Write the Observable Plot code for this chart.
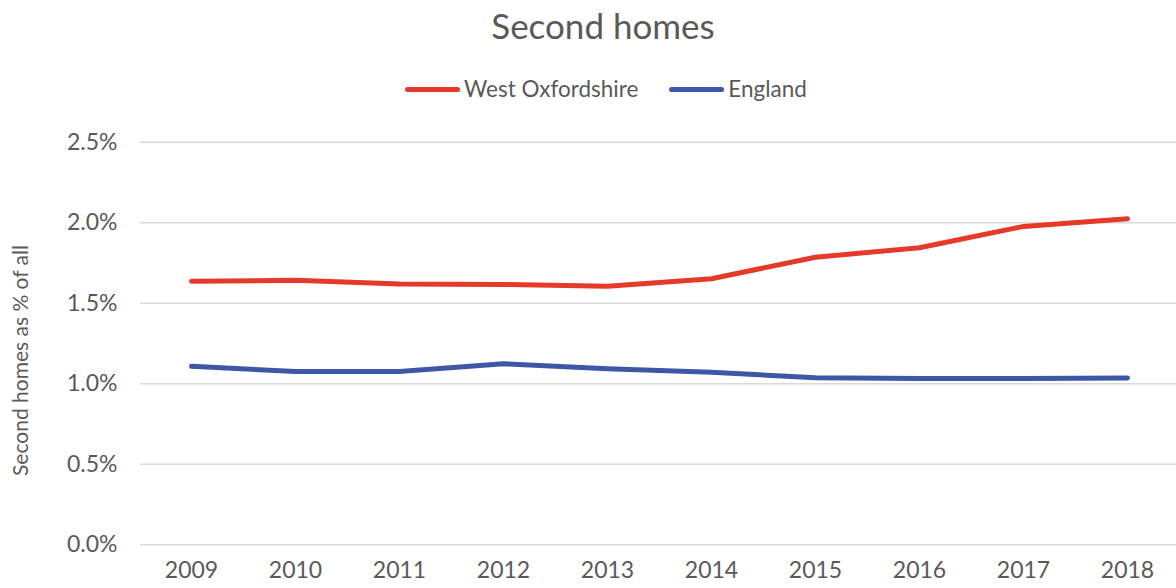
<!DOCTYPE html>
<html>
<head>
<meta charset="utf-8">
<script src="https://cdn.jsdelivr.net/npm/d3@7"></script>
<script src="https://cdn.jsdelivr.net/npm/@observablehq/plot@0.6"></script>
<style>
  body { margin: 0; background: #fff; font-family: Lato, "Open Sans", sans-serif; color: #595959; overflow: hidden; }
  #wrap { position: relative; width: 1176px; height: 588px; }
  #head { position: relative; width: 1176px; height: 115px; }
  #title { position: absolute; left: 603px; top: 5px; transform: translateX(-50%); font-size: 35px; line-height: 40px; white-space: nowrap; }
  #legend { position: absolute; left: 606px; top: 76px; transform: translateX(-50%); display: flex; align-items: center; font-size: 22.5px; line-height: 26px; white-space: nowrap; }
  .item { display: flex; align-items: center; }
  .item + .item { margin-left: 31px; }
  .swatch { width: 55px; height: 5px; border-radius: 3px; margin-right: 4px; }
  #chart svg { display: block; }
</style>
</head>
<body>
<div id="wrap">
  <div id="head">
    <div id="title"></div>
    <div id="legend"></div>
  </div>
  <div id="chart"></div>
</div>
<script>
const titleText = "Second homes";
const yLabel = "Second homes as % of all";
const years = [2009, 2010, 2011, 2012, 2013, 2014, 2015, 2016, 2017, 2018];
const seriesNames = ["West Oxfordshire", "England"];
const westOxfordshire = [1.637, 1.642, 1.620, 1.617, 1.606, 1.652, 1.786, 1.845, 1.977, 2.025];
const england = [1.108, 1.076, 1.076, 1.124, 1.093, 1.072, 1.037, 1.033, 1.033, 1.036];
const seriesColors = ["#e5392a", "#3d57a6"];
const yTicks = [0, 0.5, 1.0, 1.5, 2.0, 2.5];

const rows = [];
[westOxfordshire, england].forEach((vals, si) => {
  vals.forEach((v, i) => rows.push({ year: years[i], value: v, series: seriesNames[si] }));
});

document.getElementById("title").textContent = titleText;
const legend = document.getElementById("legend");
seriesNames.forEach((name, i) => {
  const item = document.createElement("div");
  item.className = "item";
  const sw = document.createElement("div");
  sw.className = "swatch";
  sw.style.background = seriesColors[i];
  const lab = document.createElement("span");
  lab.textContent = name;
  item.appendChild(sw);
  item.appendChild(lab);
  legend.appendChild(item);
});

const W = 1176, H = 473;
const chart = Plot.plot({
  width: W,
  height: H,
  marginLeft: 140,
  marginRight: 0,
  marginTop: 26.7,
  marginBottom: 43.7,
  style: { fontFamily: "Lato, 'Open Sans', sans-serif", fontSize: "23px", color: "#595959", background: "#fff", overflow: "visible" },
  x: { type: "point", domain: years, range: [138, 1180], padding: 0.5 },
  y: { domain: [0, 2.5] },
  color: { domain: seriesNames, range: seriesColors },
  marks: [
    Plot.ruleY(yTicks, { stroke: "#d9d9d9", strokeWidth: 1.5 }),
    Plot.axisY(yTicks, { tickSize: 0, tickPadding: 23, label: null, tickFormat: d => d.toFixed(1) + "%", fontSize: 23 }),
    Plot.axisX({ tickSize: 0, tickPadding: 17, label: null, tickFormat: d => String(d), fontSize: 23 }),
    Plot.text([yLabel], { frameAnchor: "left", textAnchor: "middle", rotate: -90, dx: -119, dy: 17, fontSize: 21, fill: "#595959" }),
    Plot.line(rows, { x: "year", y: "value", z: "series", stroke: "series", strokeWidth: 5, strokeLinecap: "round", strokeLinejoin: "round" })
  ]
});
document.getElementById("chart").appendChild(chart);
</script>
</body>
</html>
